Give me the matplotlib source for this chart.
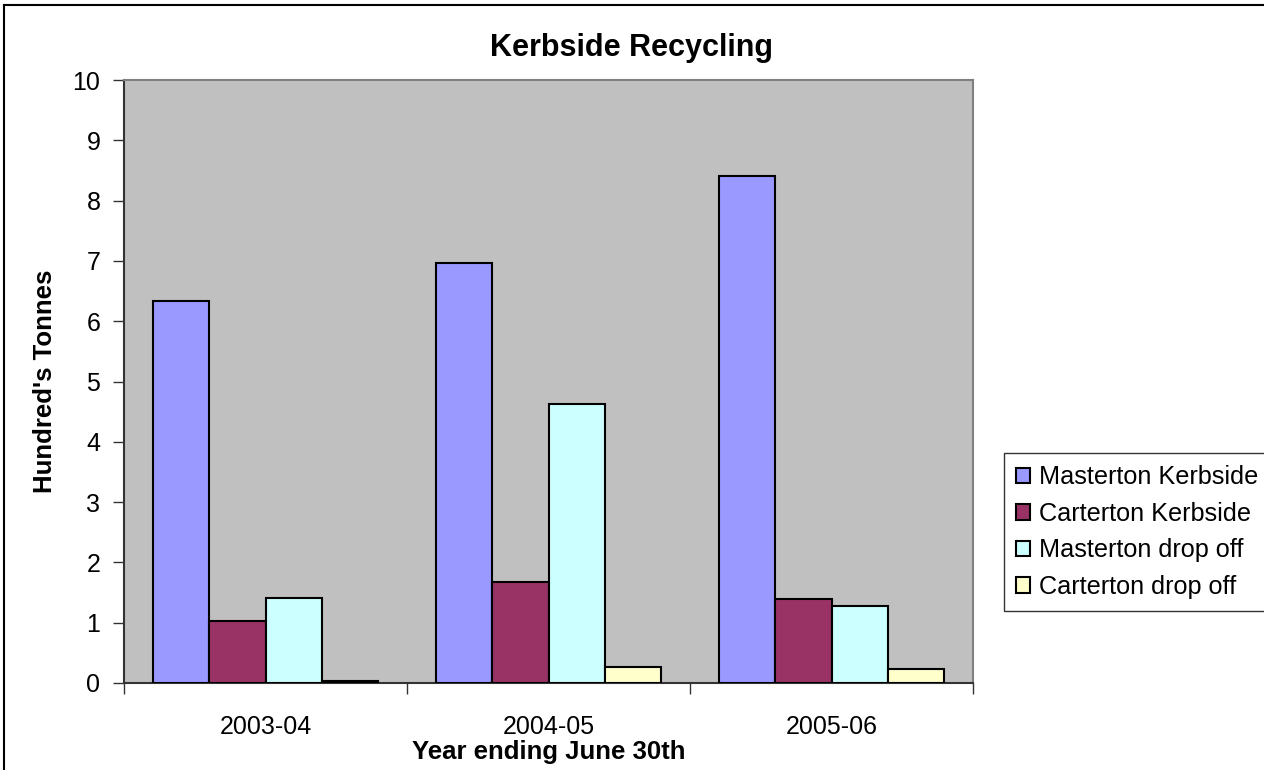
import numpy as np
import matplotlib
matplotlib.use("Agg")
import matplotlib.pyplot as plt
from matplotlib.lines import Line2D

plt.rcParams['font.family'] = ['Liberation Sans', 'DejaVu Sans']

years = ["2003-04", "2004-05", "2005-06"]
masterton_kerbside = [6.33, 6.97, 8.41]
carterton_kerbside = [1.03, 1.68, 1.39]
masterton_dropoff = [1.41, 4.63, 1.28]
carterton_dropoff = [0.04, 0.26, 0.23]

series_names = ["Masterton Kerbside", "Carterton Kerbside",
                "Masterton drop off", "Carterton drop off"]
series_colors = ["#9999FF", "#993366", "#CCFFFF", "#FFFFCC"]
series_values = [masterton_kerbside, carterton_kerbside,
                 masterton_dropoff, carterton_dropoff]

W, H = 1264, 770
fig = plt.figure(figsize=(W / 100, H / 100), dpi=100)
ax = fig.add_axes([124 / W, 1 - 683 / H, (973 - 124) / W, (683 - 80) / H])
ax.set_facecolor("#C0C0C0")

x = np.arange(len(years))
w = 0.198
for k, (name, vals, col) in enumerate(zip(series_names, series_values, series_colors)):
    ax.bar(x + (k - 1.5) * w, vals, width=w, color=col, edgecolor="black",
           linewidth=1.5, label=name, zorder=3)

ax.set_xlim(-0.5, len(years) - 0.5)
ax.set_ylim(0, 10)
ax.set_yticks(range(0, 11))
ax.tick_params(axis="y", direction="out", length=8, width=1, pad=9, labelsize=18, color="#333333")
ax.set_xticks(x)
ax.set_xticklabels(years)
ax.tick_params(axis="x", which="major", length=0, pad=23, labelsize=18)
ax.set_xticks(np.arange(-0.5, len(years)), minor=True)
ax.tick_params(axis="x", which="minor", direction="out", length=8, width=1, color="#333333")

for s in ["left", "bottom"]:
    ax.spines[s].set_color("#333333")
    ax.spines[s].set_linewidth(1.5)
for s in ["top", "right"]:
    ax.spines[s].set_color("#808080")
    ax.spines[s].set_linewidth(1.5)

ax.set_xlabel("Year ending June 30th", fontsize=18.5, fontweight="bold", va="center")
ax.xaxis.set_label_coords(0.5, (683 - 752) / 603)
ax.set_ylabel("Hundred's Tonnes", fontsize=18.5, fontweight="bold", va="center")
ax.yaxis.set_label_coords((45 - 124) / 849, 0.5)
fig.text(0.5, 1 - 48 / H, "Kerbside Recycling", ha="center", va="center",
         fontsize=22, fontweight="bold")

leg = fig.legend(loc="upper left", bbox_to_anchor=(1004 / W, 1 - 453 / H),
                 fontsize=18.2, frameon=True, fancybox=False, edgecolor="black",
                 handlelength=0.56, handleheight=0.56, handletextpad=0.36,
                 labelspacing=0.5, borderpad=0.48, borderaxespad=0)
leg.get_frame().set_linewidth(1)

# outer chart border (only top and left visible in the crop)
fig.add_artist(Line2D([4 / W, 4 / W], [0, 1 - 5 / H], color="black", lw=1.5))
fig.add_artist(Line2D([4 / W, 1], [1 - 5 / H, 1 - 5 / H], color="black", lw=1.5))

fig.savefig("out.png", dpi=100)
